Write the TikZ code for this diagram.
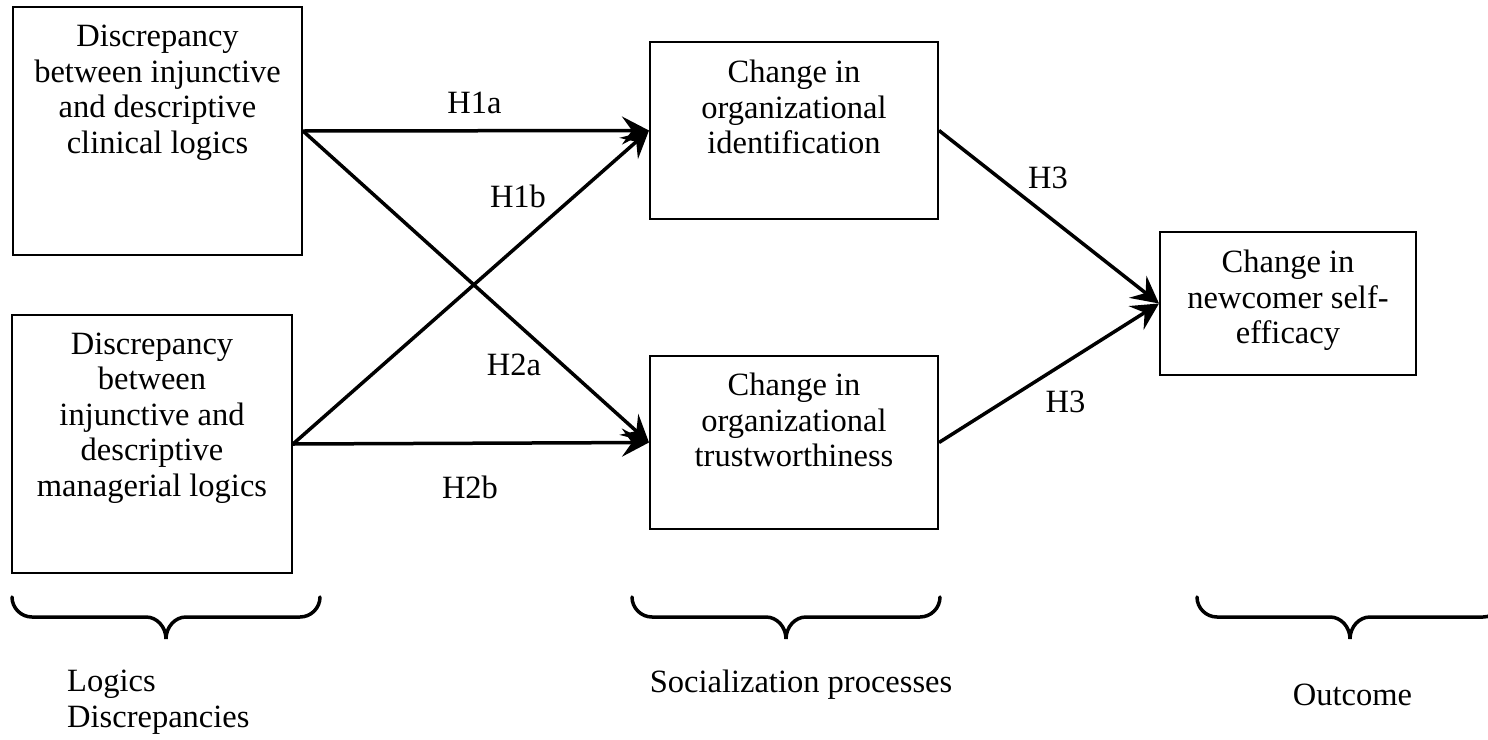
\documentclass[tikz,border=0pt]{standalone}
\usepackage{fontspec}
\setmainfont{Liberation Serif}
\usetikzlibrary{arrows.meta}
\begin{document}
\begin{tikzpicture}[x=1pt,y=-1pt,
  box/.style={draw, line width=2pt, rectangle, inner sep=0pt},
  boxtext/.style={anchor=north, inner sep=0pt, align=center, font=\fontsize{32.5}{35.5}\selectfont},
  lbl/.style={anchor=base, inner sep=0pt, font=\fontsize{32.5}{35.5}\selectfont},
  link/.style={line width=3.5pt, -{Stealth[length=27pt,width=28pt,inset=10pt]}},
  bracecurve/.style={line width=3.5pt, line cap=round}
]
\useasboundingbox (0,0) rectangle (1488,739);
\fill[white] (0,0) rectangle (1488,739);

% boxes
\node[box, minimum width=289pt, minimum height=248pt] (A) at (157.5,131) {};
\node[box, minimum width=280pt, minimum height=258pt] (B) at (152,444) {};
\node[box, minimum width=288pt, minimum height=177pt] (C) at (794,130.5) {};
\node[box, minimum width=288pt, minimum height=173pt] (D) at (794,442.5) {};
\node[box, minimum width=256pt, minimum height=143pt] (E) at (1288,303.5) {};

% box texts
\node[boxtext] (At) at (157.5,24.8) {Discrepancy\\between injunctive\\and descriptive\\clinical logics};
\node[boxtext] (Bt) at (152,332.3) {Discrepancy\\between\\injunctive and\\descriptive\\managerial logics};
\node[boxtext] (Ct) at (794,59.8) {Change in\\organizational\\identification};
\node[boxtext] (Dt) at (794,372.8) {Change in\\organizational\\trustworthiness};
\node[boxtext] (Et) at (1288,249.8) {Change in\\newcomer self-\\efficacy};

% connectors
\draw[link] (A.east) -- (C.west);
\draw[link] (A.east) -- (D.west);
\draw[link] (B.east) -- (C.west);
\draw[link] (B.east) -- (D.west);
\draw[link] (C.east) -- (E.west);
\draw[link] (D.east) -- (E.west);

% labels
\node[lbl] (h1a) at (474.5,113) {H1a};
\node[lbl] (h1b) at (518,207) {H1b};
\node[lbl] (h2a) at (514,375) {H2a};
\node[lbl] (h2b) at (470,498) {H2b};
\node[lbl] (h3a) at (1048,188) {H3};
\node[lbl] (h3b) at (1065.5,412) {H3};

% braces
\begin{scope}
\clip (0,0) rectangle (1488,739);
\foreach \xa/\xt/\xb in {12/166/320, 632/786/940, 1197/1350/1503}{
  \draw[bracecurve] (\xa,597) .. controls (\xa,608) and (\xa+9,617) .. (\xa+20,617)
    -- (\xt-20,617) .. controls (\xt-9,617) and (\xt,627) .. (\xt,639)
    .. controls (\xt,627) and (\xt+9,617) .. (\xt+20,617)
    -- (\xb-20,617) .. controls (\xb-9,617) and (\xb,608) .. (\xb,597);
}
\end{scope}

% group labels
\node[anchor=north west, inner sep=0pt, align=left, font=\fontsize{32.5}{36}\selectfont] (g1) at (67,669.8) {Logics\\Discrepancies};
\node[lbl] (g2) at (801,692) {Socialization processes};
\node[lbl] (g3) at (1352.5,705) {Outcome};
\end{tikzpicture}
\end{document}
